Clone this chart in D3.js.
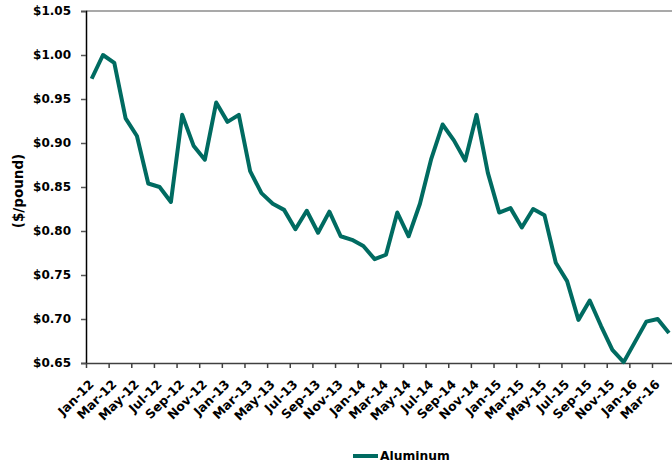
<!DOCTYPE html>
<html>
<head>
<meta charset="utf-8">
<script src="https://cdn.jsdelivr.net/npm/d3@7"></script>
<style>
  body { margin: 0; background: #fff; }
  text { font-family: "DejaVu Sans", sans-serif; font-weight: bold; fill: #000; }
</style>
</head>
<body>
<svg width="672" height="467"></svg>
<script>
// months on the category axis
var months = ["Jan-12","Feb-12","Mar-12","Apr-12","May-12","Jun-12","Jul-12","Aug-12","Sep-12","Oct-12","Nov-12","Dec-12",
  "Jan-13","Feb-13","Mar-13","Apr-13","May-13","Jun-13","Jul-13","Aug-13","Sep-13","Oct-13","Nov-13","Dec-13",
  "Jan-14","Feb-14","Mar-14","Apr-14","May-14","Jun-14","Jul-14","Aug-14","Sep-14","Oct-14","Nov-14","Dec-14",
  "Jan-15","Feb-15","Mar-15","Apr-15","May-15","Jun-15","Jul-15","Aug-15","Sep-15","Oct-15","Nov-15","Dec-15",
  "Jan-16","Feb-16","Mar-16","Apr-16"];

// aluminum price, $/pound
var aluminum = [0.973,1.000,0.991,0.928,0.908,0.854,0.850,0.833,0.932,0.897,0.881,0.946,
  0.924,0.932,0.868,0.843,0.831,0.824,0.802,0.823,0.798,0.822,0.794,0.790,
  0.783,0.768,0.773,0.821,0.794,0.831,0.882,0.921,0.903,0.880,0.932,0.866,
  0.821,0.826,0.804,0.825,0.818,0.764,0.743,0.699,0.721,0.692,0.665,0.651,
  0.674,0.697,0.700,0.684];

var yTicks = [0.65,0.70,0.75,0.80,0.85,0.90,0.95,1.00,1.05];

var svg = d3.select("svg"),
    margin = {top: 11, left: 86, bottom: 104},
    h = 467,
    catW = 11.32;

// x: category index (boundaries), y: price
var x = d3.scaleLinear()
  .domain([0, months.length])
  .range([margin.left, margin.left + months.length * catW]);

var y = d3.scaleLinear()
  .domain([0.65, 1.05])
  .range([h - margin.bottom, margin.top]);

// top gridline
svg.append("line")
  .attr("x1", x(0)).attr("x2", x(months.length))
  .attr("y1", y(1.05)).attr("y2", y(1.05))
  .attr("stroke", "#8c8c8c").attr("stroke-width", 1.5);

// y axis
var yAxis = d3.axisLeft(y)
  .tickValues(yTicks)
  .tickSize(5)
  .tickPadding(10)
  .tickFormat(d3.format("$.2f"));

var gY = svg.append("g")
  .attr("transform", "translate(" + margin.left + ",0)")
  .call(yAxis);
gY.select(".domain").attr("stroke", "#000").attr("stroke-width", 1.5);
gY.selectAll(".tick line").attr("stroke", "#555").attr("stroke-width", 1.5);
gY.selectAll(".tick text")
  .style("font-size", "12px")
  .style("font-family", "'DejaVu Sans', sans-serif")
  .style("font-weight", "bold")
  .attr("fill", "#000");

// x axis: ticks every two categories, at boundaries
var tickIdx = d3.range(0, months.length + 1, 2);
var xAxis = d3.axisBottom(x)
  .tickValues(tickIdx)
  .tickSize(5)
  .tickSizeOuter(0)
  .tickFormat("");

var gX = svg.append("g")
  .attr("transform", "translate(0," + y(0.65) + ")")
  .call(xAxis);
gX.select(".domain").attr("stroke", "#404040").attr("stroke-width", 1.5);
gX.selectAll(".tick line").attr("stroke", "#404040").attr("stroke-width", 1.5);

// x labels, every other month, centered on category
svg.append("g").selectAll("text")
  .data(months.filter(function(d, i) { return i % 2 == 0; }))
  .enter()
  .append("text")
  .attr("transform", function(d) {
    var i = months.indexOf(d);
    return "translate(" + (x(i + 0.5) + 3) + "," + (y(0.65) + 22) + ") rotate(-45)";
  })
  .attr("text-anchor", "end")
  .style("font-size", "12.5px")
  .text(function(d) { return d; });

// y title
svg.append("text")
  .attr("transform", "translate(23," + ((y(0.65) + y(1.05)) / 2 + 4) + ") rotate(-90)")
  .attr("text-anchor", "middle")
  .style("font-size", "13.5px")
  .text("($/pound)");

// line
var line = d3.line()
  .x(function(d, i) { return x(i + 0.5); })
  .y(function(d) { return y(d); });

svg.append("path")
  .datum(aluminum)
  .attr("fill", "none")
  .attr("stroke", "#006b61")
  .attr("stroke-width", 4)
  .attr("stroke-linejoin", "round")
  .attr("d", line);

// legend
var leg = svg.append("g").attr("transform", "translate(353,456)");
leg.append("line")
  .attr("x1", 0).attr("x2", 25)
  .attr("stroke", "#006b61").attr("stroke-width", 4);
leg.append("text")
  .attr("x", 27).attr("dy", "0.35em")
  .style("font-size", "12.3px")
  .text("Aluminum");
</script>
</body>
</html>
